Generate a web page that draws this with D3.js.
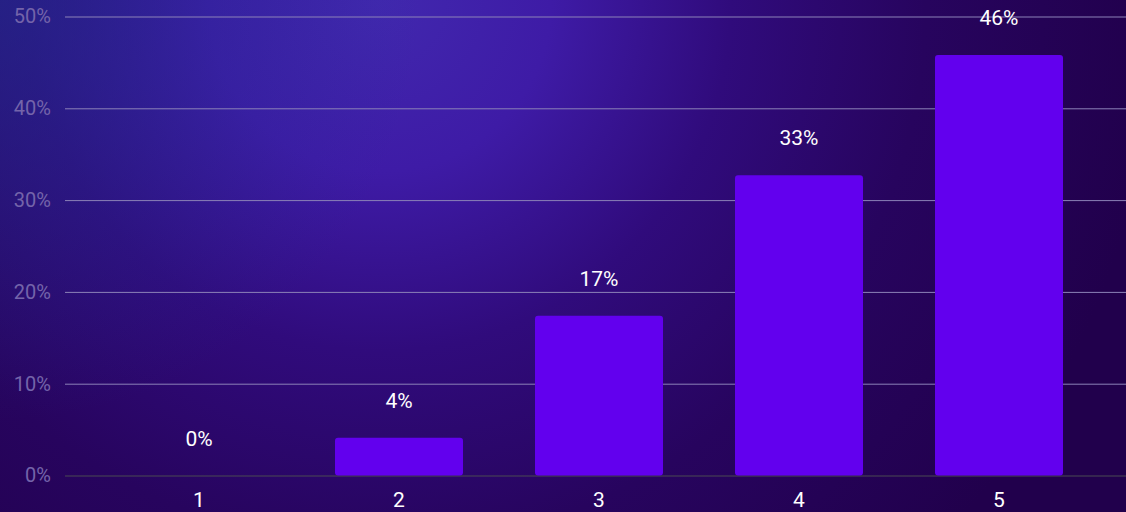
<!DOCTYPE html>
<html>
<head>
<meta charset="utf-8">
<script src="https://cdn.jsdelivr.net/npm/d3@7"></script>
<style>
  html, body { margin: 0; padding: 0; background: #22004c; }
  svg { display: block; }
</style>
</head>
<body>
<div id="chart"></div>
<script>
const categories = ['1', '2', '3', '4', '5'];
const values = [0, 4.1, 17.4, 32.7, 45.8];
const yTicks = [0, 10, 20, 30, 40, 50];

const width = 1126, height = 512;
const margin = { top: 16.5, right: 27, bottom: 36.5, left: 99 };

const svg = d3.select('#chart').append('svg')
  .attr('width', width)
  .attr('height', height)
  .style('font-family', 'Roboto, sans-serif');

// background glow
const defs = svg.append('defs');
const glow = defs.append('radialGradient')
  .attr('id', 'bg')
  .attr('gradientUnits', 'userSpaceOnUse')
  .attr('cx', 380).attr('cy', 0).attr('r', 780);
[[0, '#4128ae'], [0.22, '#3e1ba6'], [0.45, '#300b7c'], [0.7, '#27045e'], [1, '#21004c']]
  .forEach(([o, c]) => glow.append('stop').attr('offset', o).attr('stop-color', c));
const tint = defs.append('radialGradient')
  .attr('id', 'tint')
  .attr('gradientUnits', 'userSpaceOnUse')
  .attr('cx', 0).attr('cy', 0).attr('r', 420);
tint.append('stop').attr('offset', 0).attr('stop-color', '#1e3290').attr('stop-opacity', 0.55);
tint.append('stop').attr('offset', 1).attr('stop-color', '#1e3290').attr('stop-opacity', 0);

svg.append('rect').attr('width', width).attr('height', height).attr('fill', 'url(#bg)');
svg.append('rect').attr('width', width).attr('height', height).attr('fill', 'url(#tint)');

const x = d3.scaleBand()
  .domain(categories)
  .range([margin.left, width - margin.right])
  .paddingInner(0.36)
  .paddingOuter(0.18);

const y = d3.scaleLinear()
  .domain([0, 50])
  .range([height - margin.bottom, margin.top]);

// grid + y labels
const yAxis = svg.append('g')
  .attr('transform', `translate(65,0)`)
  .call(d3.axisLeft(y).tickValues(yTicks).tickFormat(d => d + '%').tickSize(0).tickPadding(14))
  .call(g => g.select('.domain').remove());

yAxis.selectAll('.tick text')
  .attr('fill', '#7464aa')
  .attr('font-size', 20)
  .attr('font-family', 'Roboto, sans-serif');

yAxis.selectAll('.tick')
  .append('line')
  .attr('x1', 0)
  .attr('x2', width)
  .attr('stroke', d => d === 0 ? '#4a4a52' : '#8c82b8')
  .attr('stroke-width', 1);

// bars
svg.append('g')
  .selectAll('rect')
  .data(values)
  .join('rect')
  .attr('x', (d, i) => x(categories[i]))
  .attr('y', d => y(d))
  .attr('width', x.bandwidth())
  .attr('height', d => y(0) - y(d))
  .attr('rx', d => d > 0 ? 3 : 0)
  .attr('fill', '#6200ee');

// value labels
svg.append('g')
  .selectAll('text')
  .data(values)
  .join('text')
  .attr('x', (d, i) => x(categories[i]) + x.bandwidth() / 2)
  .attr('y', d => y(d) - 30)
  .attr('text-anchor', 'middle')
  .attr('fill', '#ffffff')
  .attr('font-size', 21)
  .text(d => Math.round(d) + '%');

// x labels
const xAxis = svg.append('g')
  .attr('transform', `translate(0,${height - margin.bottom})`)
  .call(d3.axisBottom(x).tickSize(0).tickPadding(17))
  .call(g => g.select('.domain').remove());

xAxis.selectAll('.tick text')
  .attr('fill', '#ffffff')
  .attr('font-size', 21)
  .attr('font-family', 'Roboto, sans-serif');
</script>
</body>
</html>
